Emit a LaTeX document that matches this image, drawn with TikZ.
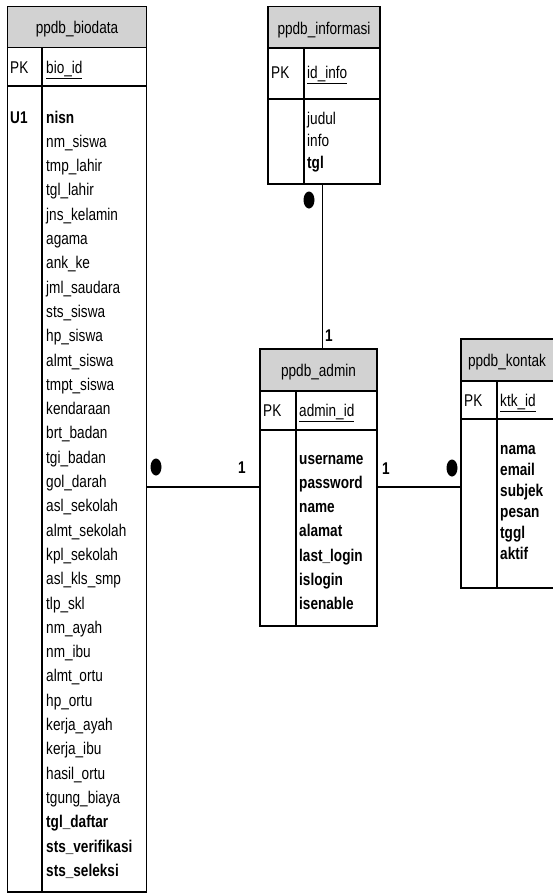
\documentclass[tikz,border=0pt]{standalone}
\usepackage{fontspec}
\setmainfont{Liberation Sans}[FakeStretch=0.8]
\usetikzlibrary{fit,shapes.geometric}
\definecolor{hdrgray}{RGB}{210,210,210}
\tikzset{
  frame/.style={draw=black, line width=1.1pt},
  link/.style={draw=black, line width=1.1pt},
  ttl/.style={anchor=base, yshift=-6pt, inner sep=0, font=\fontsize{17}{20}\selectfont},
  fld/.style={anchor=base west, yshift=-6pt, inner sep=0, font=\fontsize{17}{20}\selectfont},
  bfld/.style={fld, font=\fontsize{17}{20}\selectfont\bfseries},
  dotmark/.style={ellipse, fill=black, inner sep=0, minimum width=11pt, minimum height=17pt},
  card/.style={anchor=base, yshift=-6pt, inner sep=0, font=\fontsize{17}{20}\selectfont\bfseries},
}
% table: name, left, top, right, bottom, header bottom, key-row bottom, column split
\newcommand\ertable[8]{%
  \fill[hdrgray] (#2,#3) rectangle (#4,#6);
  \node[frame, fit={(#2,#3) (#4,#5)}, inner sep=0] (#1) {};
  \draw[frame] (#2,#6) -- (#4,#6);
  \draw[frame] (#2,#7) -- (#4,#7);
  \draw[frame] (#8,#6) -- (#8,#5);
}
\begin{document}
\begin{tikzpicture}[x=1pt, y=-1pt]
\useasboundingbox[fill=white] (0,0) rectangle (553,894);

% ---- ppdb_biodata ----
\ertable{bio}{7.5}{6.5}{146.5}{892}{47.5}{86}{42}
\node[ttl] (bio-t) at (77,27) {ppdb\_biodata};
\node[fld] (bio-pk) at (10,67) {PK};
\node[fld] (bio-key) at (46,67) {\underline{bio\_id}};
\node[bfld] (bio-u1) at (10,117) {U1};
\node[bfld] (bio-f0) at (46,117) {nisn};
\foreach \t [count=\i from 1] in {nm\_siswa, tmp\_lahir, tgl\_lahir, jns\_kelamin, agama, ank\_ke, jml\_saudara, sts\_siswa, hp\_siswa, almt\_siswa, tmpt\_siswa, kendaraan, brt\_badan, tgi\_badan, gol\_darah, asl\_sekolah, almt\_sekolah, kpl\_sekolah, asl\_kls\_smp, tlp\_skl, nm\_ayah, nm\_ibu, almt\_ortu, hp\_ortu, kerja\_ayah, kerja\_ibu, hasil\_ortu, tgung\_biaya}
  \node[fld] (bio-f\i) at (46,{117+24.3*\i}) {\t};
\foreach \t [count=\i from 29] in {tgl\_daftar, sts\_verifikasi, sts\_seleksi}
  \node[bfld] (bio-f\i) at (46,{117+24.3*\i}) {\t};

% ---- ppdb_informasi ----
\ertable{info}{268}{6.5}{380}{184}{48}{99}{304}
\node[ttl] (info-t) at (324,28) {ppdb\_informasi};
\node[fld] (info-pk) at (271,72) {PK};
\node[fld] (info-key) at (307,72) {\underline{id\_info}};
\node[fld] (info-f1) at (307,118) {judul};
\node[fld] (info-f2) at (307,140) {info};
\node[bfld] (info-f3) at (307,162) {tgl};

% ---- ppdb_admin ----
\ertable{admin}{260}{349}{377}{626}{391}{430}{296}
\node[ttl] (admin-t) at (318.5,370) {ppdb\_admin};
\node[fld] (admin-pk) at (263,410) {PK};
\node[fld] (admin-key) at (299,410) {\underline{admin\_id}};
\foreach \t [count=\i from 0] in {username, password, name, alamat, last\_login, islogin, isenable}
  \node[bfld] (admin-f\i) at (299,{458+24.3*\i}) {\t};

% ---- ppdb_kontak ----
\ertable{kontak}{461}{339}{554}{588}{381}{419}{497}
\node[ttl] (kontak-t) at (507,360) {ppdb\_kontak};
\node[fld] (kontak-pk) at (464,400) {PK};
\node[fld] (kontak-key) at (500,400) {\underline{ktk\_id}};
\foreach \t [count=\i from 0] in {nama, email, subjek, pesan, tggl, aktif}
  \node[bfld] (kontak-f\i) at (500,{448+21*\i}) {\t};

% ---- relationships ----
\coordinate (vlink) at (322.5,0);
\coordinate (hlink) at (0,487);
\draw[link] (vlink |- info.south) -- (vlink |- admin.north);
\draw[link] (hlink -| bio.east) -- (hlink -| admin.west);
\draw[link] (hlink -| admin.east) -- (hlink -| kontak.west);

\node[dotmark] (info-dot) at (309,200) {};
\node[card] (info-one) at (329,335) {1};
\node[dotmark] (bio-dot) at (156,467) {};
\node[card] (bio-one) at (242,467) {1};
\node[card] (kontak-one) at (386,468) {1};
\node[dotmark] (kontak-dot) at (452,468) {};
\end{tikzpicture}
\end{document}
